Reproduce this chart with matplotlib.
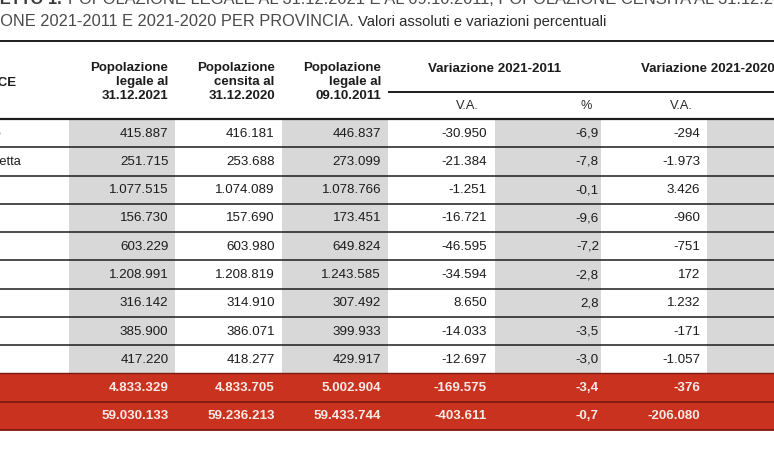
import matplotlib
matplotlib.use("Agg")
import matplotlib.pyplot as plt
from matplotlib import font_manager as fm
from matplotlib.patches import Rectangle

# ---------------- data ----------------
provinces = ["Agrigento", "Caltanissetta", "Catania", "Enna", "Messina",
             "Palermo", "Ragusa", "Siracusa", "Trapani", "SICILIA", "ITALIA"]
pop_legal_2021 = [415887, 251715, 1077515, 156730, 603229, 1208991,
                  316142, 385900, 417220, 4833329, 59030133]
pop_census_2020 = [416181, 253688, 1074089, 157690, 603980, 1208819,
                   314910, 386071, 418277, 4833705, 59236213]
pop_legal_2011 = [446837, 273099, 1078766, 173451, 649824, 1243585,
                  307492, 399933, 429917, 5002904, 59433744]
var_2011_abs = [-30950, -21384, -1251, -16721, -46595, -34594,
                8650, -14033, -12697, -169575, -403611]
var_2011_pct = [-6.9, -7.8, -0.1, -9.6, -7.2, -2.8, 2.8, -3.5, -3.0, -3.4, -0.7]
var_2020_abs = [-294, -1973, 3426, -960, -751, 172, 1232, -171, -1057, -376, -206080]

col_headers = ["Popolazione\nlegale al\n31.12.2021",
               "Popolazione\ncensita al\n31.12.2020",
               "Popolazione\nlegale al\n09.10.2011"]
group_headers = ["Variazione 2021-2011", "Variazione 2021-2020"]
sub_headers = ["V.A.", "%", "V.A."]
title_bold = "PROSPETTO 1."
title_line1 = "POPOLAZIONE LEGALE AL 31.12.2021 E AL 09.10.2011, POPOLAZIONE CENSITA AL 31.12.2020 E"
title_line2 = "VARIAZIONE 2021-2011 E 2021-2020 PER PROVINCIA."
title_hidden = "VARIAZI"
subtitle = "Valori assoluti e variazioni percentuali"
label_header = "PROVINCE"


def fmt_int(v):
    s = f"{abs(v):,}".replace(",", ".")
    return ("-" if v < 0 else "") + s


def fmt_pct(v):
    return f"{v:.1f}".replace(".", ",")


# ---------------- fonts ----------------
names = {f.name for f in fm.fontManager.ttflist}
if "Liberation Sans Narrow" in names:
    NARROW, SC = "Liberation Sans Narrow", 1.0
else:
    NARROW, SC = "Liberation Sans", 0.82
REG = "Liberation Sans"

W, H = 774, 450
fig = plt.figure(figsize=(W / 100, H / 100), dpi=100)
ax = fig.add_axes([0, 0, 1, 1])
ax.set_xlim(0, W)
ax.set_ylim(H, 0)
ax.axis("off")
renderer = fig.canvas.get_renderer()

RED = "#C8321F"
DARKRED = "#7E1A10"
GRAY = "#D8D8D8"
TXT = "#1c1c1c"

# layout
label_x = -53
col_left = 69
col_w = 106.4
n_cols = 7
top = 119
bottom = 430
n_rows = len(provinces)
row_h = (bottom - top) / n_rows
edges = [top + i * row_h for i in range(n_rows + 1)]
centers = [(edges[i] + edges[i + 1]) / 2 for i in range(n_rows)]
col_edges = [col_left + i * col_w for i in range(n_cols + 1)]

# gray shaded columns (data rows only)
for c in (0, 2, 4, 6):
    ax.add_patch(Rectangle((col_edges[c], edges[0]), col_w, edges[9] - edges[0],
                           facecolor=GRAY, edgecolor="none", zorder=1))

# red total rows
ax.add_patch(Rectangle((0, edges[9]), W, edges[11] - edges[9],
                       facecolor=RED, edgecolor="none", zorder=1))

# horizontal rules
ax.plot([0, W], [41, 41], color=TXT, lw=1.4, zorder=3)
ax.plot([col_edges[3] + 1, W], [92, 92], color=TXT, lw=1.4, zorder=3)
ax.plot([0, W], [edges[0], edges[0]], color=TXT, lw=1.6, zorder=3)
for i in range(1, 9):
    ax.plot([0, W], [edges[i], edges[i]], color=TXT, lw=1.1, zorder=3)
ax.plot([0, W], [edges[9], edges[9]], color=DARKRED, lw=1.0, zorder=3)
ax.plot([0, W], [edges[10], edges[10]], color=DARKRED, lw=1.3, zorder=3)
ax.plot([0, W], [edges[11], edges[11]], color=DARKRED, lw=1.3, zorder=3)

# title
ax.text(62, 4.0, title_bold, ha="right", va="baseline", fontsize=11.9,
        family=REG, weight="bold", color="#3a3a3a")
ax.text(68, 4.0, title_line1, ha="left", va="baseline", fontsize=11.9,
        family=REG, color="#4a4a4a")
tmp = ax.text(0, 26, title_hidden, ha="left", va="baseline", fontsize=11.8, family=REG)
hid_w = tmp.get_window_extent(renderer).width
tmp.remove()
t2 = ax.text(-hid_w, 26, title_line2, ha="left", va="baseline", fontsize=11.8,
             family=REG, color="#4a4a4a")
end2 = t2.get_window_extent(renderer).x1
ax.text(end2 + 5, 26, subtitle, ha="left", va="baseline", fontsize=10.7,
        family=REG, color="#2a2a2a")

# headers
ax.text(label_x, 83, label_header, ha="left", va="center", fontsize=11.6 * SC,
        family=NARROW, weight="bold", color=TXT)
for c, h in enumerate(col_headers):
    ax.text(col_edges[c + 1] - 7, 82, h, ha="right", va="center", fontsize=11.6 * SC,
            family=NARROW, weight="bold", color=TXT, linespacing=1.22, multialignment="right")
for g, h in enumerate(group_headers):
    cx = (col_edges[3 + 2 * g] + col_edges[5 + 2 * g]) / 2
    ax.text(cx, 69, h, ha="center", va="center", fontsize=11.8 * SC,
            family=NARROW, weight="bold", color=TXT)
sub_x = [467, 586, 681]
for x, s in zip(sub_x, sub_headers):
    ax.text(x, 106, s, ha="center", va="center", fontsize=11.2 * SC,
            family=NARROW, color="#2a2a2a")

# body
columns = [
    [fmt_int(v) for v in pop_legal_2021],
    [fmt_int(v) for v in pop_census_2020],
    [fmt_int(v) for v in pop_legal_2011],
    [fmt_int(v) for v in var_2011_abs],
    [fmt_pct(v) for v in var_2011_pct],
    [fmt_int(v) for v in var_2020_abs],
]
pads = [7, 7, 7, 8, 2, 7]
for r in range(n_rows):
    total = r >= 9
    color = "#FBEAE6" if total else TXT
    weight = "bold" if total else "normal"
    ax.text(label_x, centers[r] + 0.5, provinces[r], ha="left", va="center",
            fontsize=11.2 * SC, family=NARROW, color=color, weight=weight)
    for c, col in enumerate(columns):
        ax.text(col_edges[c + 1] - pads[c], centers[r] + 0.5, col[r], ha="right",
                va="center", fontsize=11.7 * SC, family=NARROW, color=color,
                weight=weight, zorder=4)

fig.savefig("out.png", dpi=100, facecolor="white")
